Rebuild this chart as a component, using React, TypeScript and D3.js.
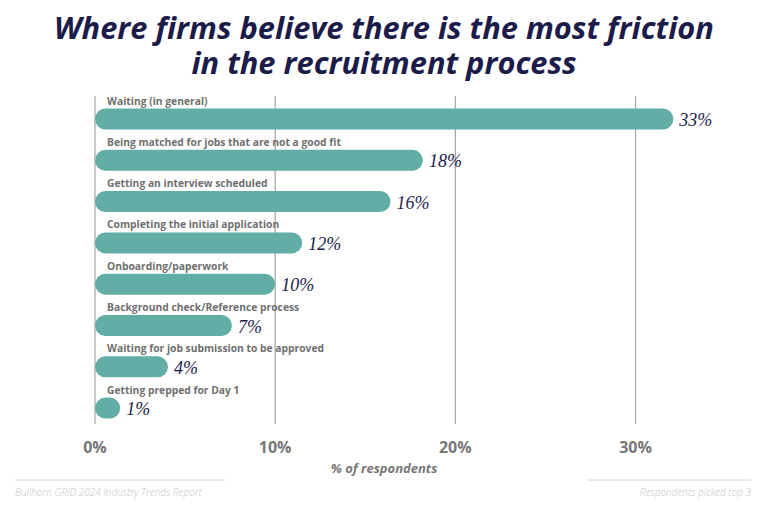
import React from "react";
import * as d3 from "d3";

const categories = [
  "Waiting (in general)",
  "Being matched for jobs that are not a good fit",
  "Getting an interview scheduled",
  "Completing the initial application",
  "Onboarding/paperwork",
  "Background check/Reference process",
  "Waiting for job submission to be approved",
  "Getting prepped for Day 1",
];
// bar lengths as drawn in the source graphic (percent)
const barValues = [32.1, 18.2, 16.4, 11.5, 10.0, 7.6, 4.05, 1.4];
const valueLabels = ["33%", "18%", "16%", "12%", "10%", "7%", "4%", "1%"];
const xTicks = [0, 10, 20, 30];

const W = 768;
const H = 510;
const TEAL = "#63ada7";
const NAVY = "#1c1c4a";
const GRAY = "#777777";
const GRID = "#a3a3a3";

export default function App() {
  const x = d3.scaleLinear().domain([0, 30]).range([95, 635.5]);
  const y = d3
    .scaleBand<string>()
    .domain(categories)
    .range([99, 99 + categories.length * 41.3])
    .padding(0);
  const barH = 21;

  return (
    <svg
      width={W}
      height={H}
      style={{ position: "absolute", left: 0, top: 0, background: "#fff" }}
    >
      {/* title */}
      <g
        fontFamily="'Open Sans', sans-serif"
        fontWeight={700}
        fontStyle="italic"
        fontSize={30.8}
        fill={NAVY}
        textAnchor="middle"
      >
        <text x={W / 2} y={39}>
          Where firms believe there is the most friction
        </text>
        <text x={W / 2} y={74}>
          in the recruitment process
        </text>
      </g>

      {/* grid lines */}
      {xTicks.map((t) => (
        <line
          key={t}
          x1={x(t)}
          x2={x(t)}
          y1={96}
          y2={424}
          stroke={GRID}
          strokeWidth={1.2}
        />
      ))}

      {/* bars */}
      {categories.map((c, i) => {
        const top = y(c) as number;
        return (
          <g key={c}>
            <text
              x={107}
              y={top + 5.5}
              fontFamily="'Open Sans', sans-serif"
              fontWeight={700}
              fontSize={10.3}
              fill="#6f6f6f"
            >
              {c}
            </text>
            <rect
              x={x(0)}
              y={top + 9.5}
              width={x(barValues[i]) - x(0)}
              height={barH}
              rx={barH / 2}
              fill={TEAL}
            />
            <text
              x={x(barValues[i]) + 6}
              y={top + 27}
              fontFamily="'Liberation Serif', serif"
              fontStyle="italic"
              fontSize={18}
              fill={NAVY}
            >
              {valueLabels[i]}
            </text>
          </g>
        );
      })}

      {/* x tick labels */}
      {xTicks.map((t) => (
        <text
          key={t}
          x={x(t)}
          y={453}
          textAnchor="middle"
          fontFamily="'Open Sans', sans-serif"
          fontWeight={700}
          fontSize={16}
          fill={GRAY}
        >
          {`${t}%`}
        </text>
      ))}

      <text
        x={384}
        y={473}
        textAnchor="middle"
        fontFamily="'Open Sans', sans-serif"
        fontWeight={700}
        fontStyle="italic"
        fontSize={13}
        fill={GRAY}
      >
        % of respondents
      </text>

      {/* footer */}
      <line x1={15} x2={225} y1={480} y2={480} stroke="#d6d6d6" strokeWidth={1} />
      <line x1={587} x2={751} y1={480} y2={480} stroke="#d6d6d6" strokeWidth={1} />
      <text
        x={15}
        y={496}
        fontFamily="'Open Sans', sans-serif"
        fontStyle="italic"
        fontWeight={300}
        fontSize={10}
        fill="#c4c4c4"
      >
        Bullhorn GRID 2024 Industry Trends Report
      </text>
      <text
        x={751}
        y={496}
        textAnchor="end"
        fontFamily="'Open Sans', sans-serif"
        fontStyle="italic"
        fontWeight={300}
        fontSize={10}
        fill="#c4c4c4"
      >
        Respondents picked top 3
      </text>
    </svg>
  );
}
